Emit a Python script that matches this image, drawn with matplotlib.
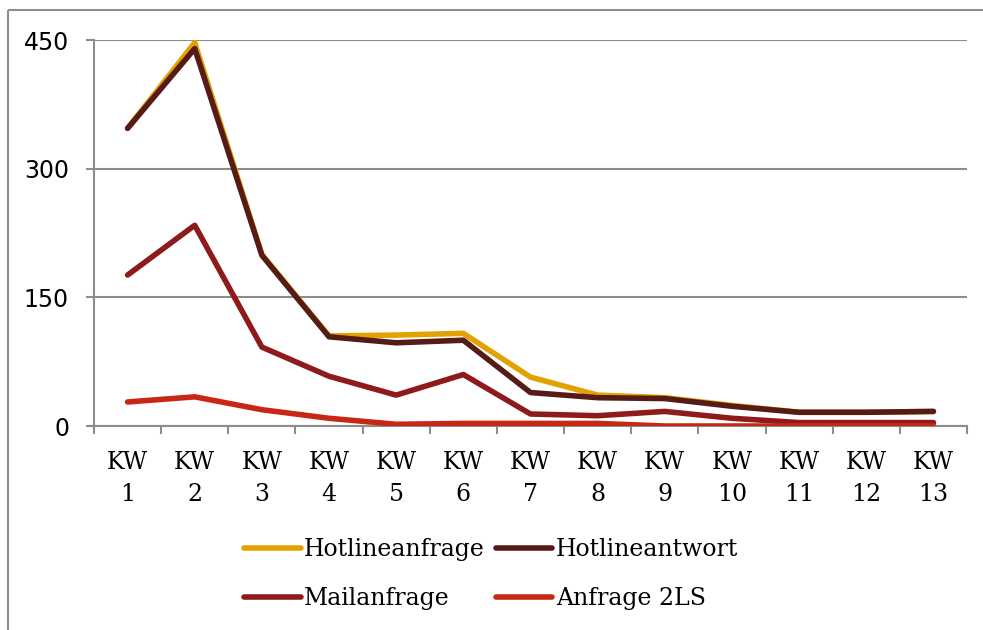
import matplotlib
matplotlib.use("Agg")
import matplotlib.pyplot as plt
from matplotlib.lines import Line2D
import numpy as np

weeks = ["KW\n1", "KW\n2", "KW\n3", "KW\n4", "KW\n5", "KW\n6", "KW\n7",
         "KW\n8", "KW\n9", "KW\n10", "KW\n11", "KW\n12", "KW\n13"]
hotlineanfrage = [347, 447, 200, 105, 106, 108, 57, 36, 33, 24, 16, 16, 17]
hotlineantwort = [347, 440, 199, 104, 97, 100, 39, 33, 32, 23, 16, 16, 17]
mailanfrage = [176, 234, 92, 58, 36, 60, 14, 12, 17, 9, 4, 4, 4]
anfrage_2ls = [28, 34, 19, 9, 2, 3, 3, 3, 0, 0, 0, 0, 0]
yticks = [0, 150, 300, 450]

series = [
    ("Hotlineanfrage", hotlineanfrage, "#E3A204"),
    ("Hotlineantwort", hotlineantwort, "#561B17"),
    ("Mailanfrage", mailanfrage, "#8E1A1B"),
    ("Anfrage 2LS", anfrage_2ls, "#C92715"),
]

W, H = 983, 630
fig = plt.figure(figsize=(W / 100, H / 100), dpi=100)
ax = fig.add_axes([94 / W, 1 - 426 / H, (967 - 94) / W, (426 - 40) / H])

x = np.arange(1, len(weeks) + 1)
handles = {}
for name, vals, col in series:
    join = "miter" if name == "Hotlineanfrage" else "round"
    ln, = ax.plot(x, vals, color=col, lw=4, solid_capstyle="round",
                  solid_joinstyle=join, label=name, zorder=3)
    handles[name] = ln

grid_col = "#8C8C8C"
ax.set_xlim(0.5, len(weeks) + 0.5)
ax.set_ylim(0, 450)
ax.set_yticks(yticks)
ax.set_yticklabels([str(v) for v in yticks], fontsize=17, family="DejaVu Sans")
ax.yaxis.grid(True, color=grid_col, lw=1.5)
ax.set_axisbelow(True)
ax.tick_params(axis="y", length=6, width=1.5, color=grid_col, pad=12)

ax.set_xticks(x)
ax.set_xticklabels(weeks, fontsize=17, family="DejaVu Serif", linespacing=1.5)
ax.set_xticks(np.arange(0.5, len(weeks) + 1), minor=True)
ax.tick_params(axis="x", which="major", length=0, pad=18)
ax.tick_params(axis="x", which="minor", length=6, width=1.5, color=grid_col)

for s in ["top", "right"]:
    ax.spines[s].set_visible(False)
for s in ["left", "bottom"]:
    ax.spines[s].set_color(grid_col)
    ax.spines[s].set_linewidth(1.5)

order = ["Hotlineanfrage", "Mailanfrage", "Hotlineantwort", "Anfrage 2LS"]
fig.legend([handles[n] for n in order], order, ncol=2, frameon=False,
           loc="center", bbox_to_anchor=(491 / W, 1 - 574 / H),
           prop={"family": "DejaVu Serif", "size": 17},
           handlelength=2.4, handletextpad=0.15, columnspacing=0.45,
           labelspacing=1.12)

# outer chart border (left and top only visible)
fig.add_artist(Line2D([8 / W, 8 / W], [0, 1 - 10 / H], transform=fig.transFigure,
                      color=grid_col, lw=1.5, solid_capstyle="butt"))
fig.add_artist(Line2D([8 / W, 1], [1 - 10 / H, 1 - 10 / H], transform=fig.transFigure,
                      color=grid_col, lw=1.5, solid_capstyle="butt"))

fig.savefig("out.png", dpi=100)
